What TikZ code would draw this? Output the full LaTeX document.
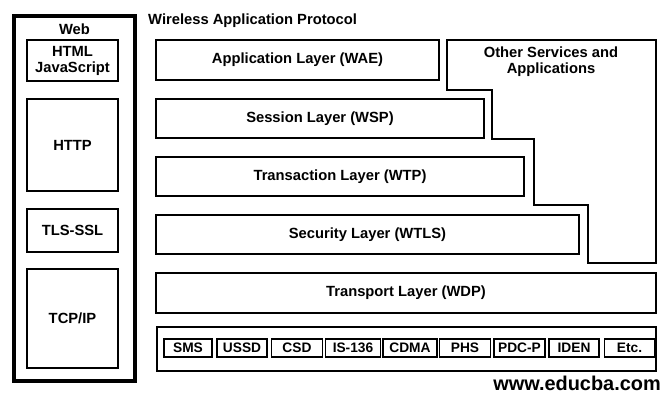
\documentclass[tikz,border=0pt]{standalone}
\usepackage{fontspec}
\setmainfont{Liberation Sans}
\begin{document}
\begin{tikzpicture}[x=1bp,y=-1bp,
  every node/.style={font=\bfseries\fontsize{14.8}{16}\selectfont, inner sep=0pt},
  box/.style={draw, line width=2.2bp, rectangle, anchor=center, align=center},
  webbox/.style={draw, line width=3.6bp, rectangle, anchor=center},
  small/.style={draw, line width=1.6bp, rectangle, anchor=center, minimum height=18bp,
     font=\bfseries\fontsize{13.8}{14}\selectfont},
  lbl/.style={anchor=center, align=center}]
\useasboundingbox (0,0) rectangle (672,401);
% Web column
\node[webbox, minimum width=121bp, minimum height=365bp] (web) at (74.5,198.5) {};
\node[lbl] (weblbl) at (74.5,29) {Web};
\node[box, minimum width=91bp, minimum height=41bp] (html) at (72.5,60.5) {HTML\\JavaScript};
\node[box, minimum width=91bp, minimum height=92bp] (http) at (72.5,145) {HTTP};
\node[box, minimum width=91bp, minimum height=43bp] (tls) at (72.5,230.5) {TLS-SSL};
\node[box, minimum width=91bp, minimum height=99bp] (tcp) at (72.5,318.5) {TCP/IP};
% WAP
\node[anchor=west] (title) at (148,21) {Wireless Application Protocol};
\node[box, minimum width=283bp, minimum height=40bp] (wae) at (297.5,60) {Application Layer (WAE)};
\node[box, minimum width=328bp, minimum height=39bp] (wsp) at (320,118.5) {Session Layer (WSP)};
\node[box, minimum width=368bp, minimum height=39bp] (wtp) at (340,176.5) {Transaction Layer (WTP)};
\node[box, minimum width=423bp, minimum height=39bp] (wtls) at (367.5,234.5) {Security Layer (WTLS)};
\node[box, minimum width=500bp, minimum height=40bp] (wdp) at (406,293) {Transport Layer (WDP)};
\draw[line width=2.2bp, line join=miter] (447,40) -- (656,40) -- (656,263) -- (588,263) -- (588,205) -- (534,205) -- (534,139) -- (492,139) -- (492,90) -- (447,90) -- cycle;
\node[lbl] (other) at (551,62) {Other Services and\\Applications};
% bearers
\node[box, minimum width=499bp, minimum height=44bp] (bearer) at (406.5,349) {};
\node[small, minimum width=48bp] (sms) at (188,348) {SMS};
\node[small, minimum width=50bp] (ussd) at (242,348) {USSD};
\node[small, minimum width=51bp] (csd) at (297,348) {CSD};
\node[small, minimum width=55bp] (is) at (353,348) {IS-136};
\node[small, minimum width=54bp] (cdma) at (410,348) {CDMA};
\node[small, minimum width=51bp] (phs) at (465,348) {PHS};
\node[small, minimum width=51bp] (pdc) at (519.5,348) {PDC-P};
\node[small, minimum width=50bp] (iden) at (574,348) {IDEN};
\node[small, minimum width=50bp] (etc) at (629.5,348) {Etc.};
\node[anchor=east, font=\bfseries\fontsize{20}{22}\selectfont] (url) at (661,383) {www.educba.com};
\end{tikzpicture}
\end{document}
